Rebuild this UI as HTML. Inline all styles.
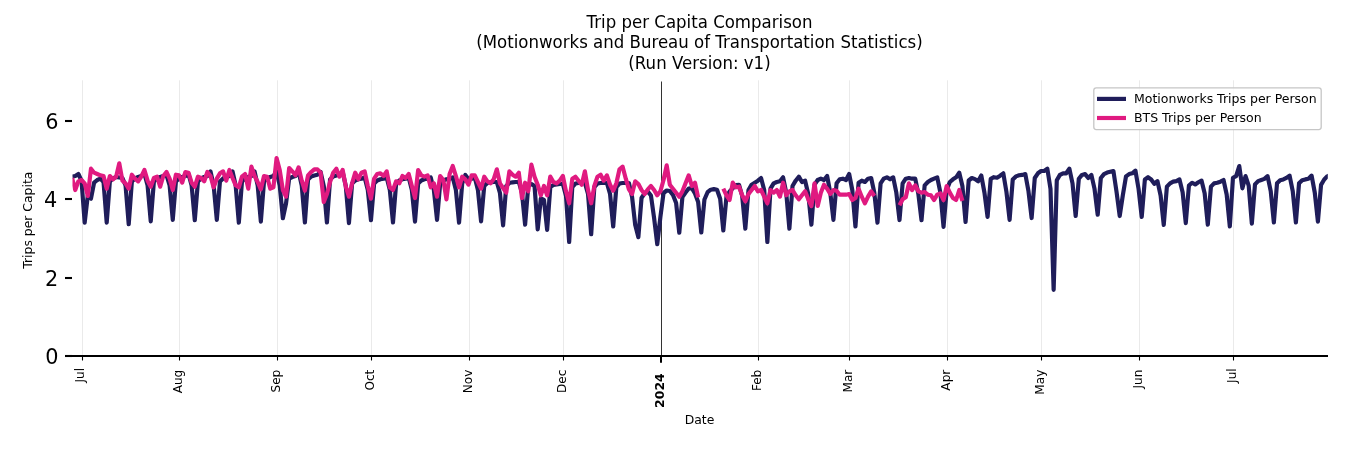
<!DOCTYPE html>
<html><head><meta charset="utf-8"><title>Trip per Capita Comparison</title>
<style>
html,body{margin:0;padding:0;background:#fff;}
body{width:1350px;height:450px;overflow:hidden;font-family:"DejaVu Sans","Liberation Sans",sans-serif;}
svg{display:block}
text{font-family:"DejaVu Sans","Liberation Sans",sans-serif;fill:#000}
.t{font-size:16.6px;text-anchor:middle}
.yl{font-size:20.83px;text-anchor:end}
.xl{font-size:12.1px;text-anchor:end}
.lg{font-size:12.5px}
.ax{font-size:12.4px;text-anchor:middle}
</style></head><body>
<svg width="1350" height="450" viewBox="0 0 1350 450">
<rect width="1350" height="450" fill="#fff"/>
<!-- title -->
<text class="t" transform="translate(699.5,27.8) scale(1,1.08)">Trip per Capita Comparison</text>
<text class="t" transform="translate(699.5,47.9) scale(1,1.08)">(Motionworks and Bureau of Transportation Statistics)</text>
<text class="t" transform="translate(699.5,69.2) scale(1,1.08)">(Run Version: v1)</text>
<!-- grid -->
<g stroke="#e4e4e4" stroke-width="0.8" fill="none">
<line x1="82.50" y1="80.3" x2="82.50" y2="356"/>
<line x1="179.50" y1="80.3" x2="179.50" y2="356"/>
<line x1="277.50" y1="80.3" x2="277.50" y2="356"/>
<line x1="371.50" y1="80.3" x2="371.50" y2="356"/>
<line x1="469.50" y1="80.3" x2="469.50" y2="356"/>
<line x1="563.50" y1="80.3" x2="563.50" y2="356"/>
<line x1="758.50" y1="80.3" x2="758.50" y2="356"/>
<line x1="849.50" y1="80.3" x2="849.50" y2="356"/>
<line x1="947.50" y1="80.3" x2="947.50" y2="356"/>
<line x1="1041.50" y1="80.3" x2="1041.50" y2="356"/>
<line x1="1139.50" y1="80.3" x2="1139.50" y2="356"/>
<line x1="1233.50" y1="80.3" x2="1233.50" y2="356"/>
</g>
<line x1="661.5" y1="81.5" x2="661.5" y2="356" stroke="#333" stroke-width="1"/>
<!-- series -->
<defs><clipPath id="axclip"><rect x="72.5" y="81.5" width="1255.3" height="274.5"/></clipPath></defs>
<g clip-path="url(#axclip)" fill="none" stroke="#1f1d5a" stroke-width="4.17" stroke-linejoin="round" stroke-linecap="butt">
<path d="M72.09 176.67 L75.24 176.00 L78.38 174.00 L81.53 180.67 L84.67 222.70 L87.82 195.33 L90.97 198.67 L94.11 182.67 L97.26 180.00 L100.40 178.67 L103.55 182.00 L106.70 222.70 L109.84 181.50 L112.99 178.50 L116.13 177.00 L119.28 177.50 L122.43 178.00 L125.57 185.50 L128.72 224.26 L131.86 181.50 L135.01 178.50 L138.16 177.00 L141.30 176.00 L144.45 173.80 L147.59 185.50 L150.74 221.37 L153.89 181.50 L157.03 178.50 L160.18 177.00 L163.32 176.00 L166.47 174.80 L169.62 185.50 L172.76 219.81 L175.91 181.50 L179.05 178.50 L182.20 177.00 L185.35 176.00 L188.49 174.00 L191.64 185.50 L194.78 220.26 L197.93 181.50 L201.08 178.50 L204.22 177.00 L207.37 176.00 L210.51 171.50 L213.66 185.50 L216.81 219.81 L219.95 181.50 L223.10 178.50 L226.24 177.00 L229.39 176.00 L232.54 171.50 L235.68 185.50 L238.83 222.70 L241.97 181.50 L245.12 178.50 L248.27 177.00 L251.41 176.00 L254.56 171.50 L257.70 185.50 L260.85 221.59 L264.00 181.50 L267.14 178.50 L270.29 177.00 L273.43 176.00 L276.58 171.50 L279.73 185.50 L282.87 218.26 L286.02 203.50 L289.16 178.50 L292.31 177.00 L295.46 176.00 L298.60 171.50 L301.75 185.50 L304.89 222.48 L308.04 179.50 L311.19 176.50 L314.33 175.50 L317.48 174.80 L320.62 172.00 L323.77 186.00 L326.92 222.48 L330.06 179.50 L333.21 176.50 L336.35 175.50 L339.50 174.80 L342.65 172.00 L345.79 186.00 L348.94 223.14 L352.08 183.50 L355.23 180.50 L358.38 179.30 L361.52 178.80 L364.67 177.50 L367.81 190.00 L370.96 220.26 L374.11 183.50 L377.25 180.50 L380.40 179.30 L383.54 178.80 L386.69 177.50 L389.84 190.00 L392.98 222.48 L396.13 183.50 L399.27 180.50 L402.42 179.30 L405.57 178.80 L408.71 177.50 L411.86 190.00 L415.00 221.59 L418.15 183.50 L421.30 180.50 L424.44 179.30 L427.59 178.80 L430.73 177.50 L433.88 190.00 L437.03 219.81 L440.17 183.50 L443.32 180.50 L446.46 179.30 L449.61 178.80 L452.76 177.50 L455.90 190.00 L459.05 222.70 L462.19 183.50 L465.34 175.00 L468.49 179.30 L471.63 178.80 L474.78 177.50 L477.92 190.00 L481.07 221.37 L484.22 186.00 L487.36 183.00 L490.51 182.30 L493.65 182.00 L496.80 182.00 L499.95 193.00 L503.09 225.37 L506.24 186.00 L509.38 183.00 L512.53 182.30 L515.68 182.00 L518.82 182.00 L521.97 193.00 L525.11 224.70 L528.26 186.00 L531.41 184.00 L534.55 186.00 L537.70 229.30 L540.84 198.50 L543.99 200.00 L547.14 229.81 L550.28 187.00 L553.43 185.00 L556.57 184.50 L559.72 184.00 L562.87 184.00 L566.01 196.00 L569.16 242.03 L572.30 187.00 L575.45 183.50 L578.60 183.00 L581.74 183.00 L584.89 183.00 L588.03 194.00 L591.18 234.26 L594.33 187.00 L597.47 183.50 L600.62 183.00 L603.76 183.00 L606.91 183.00 L610.06 194.00 L613.20 226.48 L616.35 187.00 L619.49 183.50 L622.64 183.00 L625.79 183.00 L628.93 183.00 L632.08 197.00 L635.22 225.00 L638.37 237.20 L641.52 198.00 L644.66 193.20 L647.81 191.50 L650.95 195.50 L654.10 218.00 L657.25 244.26 L660.39 217.00 L663.54 193.00 L666.68 190.50 L669.83 191.00 L672.98 195.00 L676.12 203.00 L679.27 232.70 L682.41 197.00 L685.56 192.50 L688.71 188.50 L691.85 188.20 L695.00 193.50 L698.14 202.00 L701.29 232.48 L704.44 199.50 L707.58 192.20 L710.73 189.70 L713.87 189.10 L717.02 189.70 L720.17 198.80 L723.31 230.48 L726.46 196.80 L729.60 191.50 L732.75 188.30 L735.90 185.00 L739.04 184.80 L742.19 196.00 L745.33 228.70 L748.48 190.00 L751.63 184.67 L754.77 182.67 L757.92 180.67 L761.06 178.00 L764.21 190.00 L767.36 242.03 L770.50 188.67 L773.65 183.33 L776.79 182.00 L779.94 181.33 L783.09 177.33 L786.23 192.67 L789.38 228.70 L792.52 186.00 L795.67 180.67 L798.82 176.67 L801.96 182.00 L805.11 180.67 L808.25 194.00 L811.40 224.70 L814.55 184.67 L817.69 180.00 L820.84 178.67 L823.98 180.00 L827.13 176.00 L830.28 192.67 L833.42 219.81 L836.57 183.33 L839.71 179.33 L842.86 178.67 L846.01 180.00 L849.15 174.00 L852.30 190.00 L855.44 226.48 L858.59 182.67 L861.74 180.67 L864.88 182.00 L868.03 178.67 L871.17 178.00 L874.32 192.67 L877.47 222.70 L880.61 183.33 L883.76 178.67 L886.90 177.33 L890.05 179.33 L893.20 177.33 L896.34 192.67 L899.49 220.03 L902.63 183.33 L905.78 178.67 L908.93 178.00 L912.07 178.67 L915.22 178.67 L918.36 194.00 L921.51 220.26 L924.66 185.33 L927.80 182.00 L930.95 180.00 L934.09 178.67 L937.24 177.33 L940.39 192.67 L943.53 226.92 L946.68 190.00 L949.82 182.00 L952.97 179.33 L956.12 177.33 L959.26 172.67 L962.41 186.00 L965.55 222.03 L968.70 180.50 L971.85 178.00 L974.99 179.10 L978.14 181.30 L981.28 175.50 L984.43 192.50 L987.58 216.92 L990.72 178.80 L993.87 177.20 L997.01 177.70 L1000.16 175.70 L1003.31 173.30 L1006.45 192.00 L1009.60 219.81 L1012.74 179.50 L1015.89 176.40 L1019.04 175.30 L1022.18 174.90 L1025.33 174.10 L1028.47 191.20 L1031.62 218.03 L1034.77 178.00 L1037.91 173.30 L1041.06 171.00 L1044.20 171.00 L1047.35 168.70 L1050.50 188.90 L1053.64 289.81 L1056.79 180.30 L1059.93 174.90 L1063.08 173.30 L1066.23 173.30 L1069.37 168.70 L1072.52 183.40 L1075.66 216.03 L1078.81 178.80 L1081.96 174.90 L1085.10 174.10 L1088.25 178.00 L1091.39 174.90 L1094.54 188.90 L1097.69 214.70 L1100.83 178.00 L1103.98 174.10 L1107.12 172.60 L1110.27 171.80 L1113.42 171.00 L1116.56 192.00 L1119.71 216.03 L1122.85 195.10 L1126.00 176.40 L1129.15 174.10 L1132.29 173.30 L1135.44 170.60 L1138.58 189.00 L1141.73 216.92 L1144.88 179.44 L1148.02 177.22 L1151.17 179.44 L1154.31 183.89 L1157.46 181.11 L1160.61 195.56 L1163.75 224.92 L1166.90 186.67 L1170.04 183.33 L1173.19 181.67 L1176.34 181.11 L1179.48 179.44 L1182.63 192.22 L1185.77 223.14 L1188.92 185.56 L1192.07 182.78 L1195.21 184.44 L1198.36 182.22 L1201.50 180.56 L1204.65 193.33 L1207.80 224.70 L1210.94 186.67 L1214.09 183.33 L1217.23 182.78 L1220.38 181.67 L1223.53 180.00 L1226.67 194.44 L1229.82 226.48 L1232.96 177.78 L1236.11 176.11 L1239.26 166.11 L1242.40 188.33 L1245.55 176.11 L1248.69 185.56 L1251.84 223.59 L1254.99 184.44 L1258.13 181.11 L1261.28 180.00 L1264.42 178.89 L1267.57 176.11 L1270.72 191.11 L1273.86 222.48 L1277.01 183.30 L1280.15 180.20 L1283.30 179.40 L1286.45 177.90 L1289.59 175.60 L1292.74 191.10 L1295.88 222.48 L1299.03 183.30 L1302.18 180.20 L1305.32 179.40 L1308.47 178.70 L1311.61 175.60 L1314.76 192.50 L1317.91 221.59 L1321.05 184.90 L1324.20 179.50 L1327.34 176.30 L1330.49 174.80"/>
</g>
<g clip-path="url(#axclip)" fill="none" stroke="#e01a80" stroke-width="4.17" stroke-linejoin="round" stroke-linecap="butt">
<path d="M72.09 178.00 L75.24 190.00 L78.38 181.33 L81.53 180.00 L84.67 183.33 L87.82 196.00 L90.97 168.67 L94.11 172.67 L97.26 174.00 L100.40 175.33 L103.55 176.00 L106.70 188.67 L109.84 176.00 L112.99 179.33 L116.13 176.67 L119.28 163.33 L122.43 180.67 L125.57 183.33 L128.72 188.67 L131.86 174.67 L135.01 178.67 L138.16 181.33 L141.30 176.67 L144.45 170.00 L147.59 180.67 L150.74 186.67 L153.89 178.00 L157.03 176.67 L160.18 186.67 L163.32 176.00 L166.47 172.00 L169.62 178.67 L172.76 190.00 L175.91 174.67 L179.05 175.33 L182.20 182.67 L185.35 172.00 L188.49 172.67 L191.64 182.67 L194.78 186.67 L197.93 176.67 L201.08 178.00 L204.22 181.33 L207.37 172.00 L210.51 176.00 L213.66 187.33 L216.81 178.67 L219.95 173.33 L223.10 171.33 L226.24 180.67 L229.39 170.00 L232.54 178.00 L235.68 185.33 L238.83 187.33 L241.97 176.67 L245.12 174.00 L248.27 188.67 L251.41 166.67 L254.56 176.00 L257.70 182.00 L260.85 189.33 L264.00 176.00 L267.14 176.67 L270.29 188.67 L273.43 187.33 L276.58 158.00 L279.73 170.00 L282.87 190.00 L286.02 196.67 L289.16 168.00 L292.31 171.33 L295.46 175.33 L298.60 167.33 L301.75 180.67 L304.89 190.70 L308.04 175.33 L311.19 172.00 L314.33 169.33 L317.48 169.33 L320.62 172.67 L323.77 202.00 L326.92 194.00 L330.06 182.00 L333.21 172.67 L336.35 168.67 L339.50 176.67 L342.65 170.00 L345.79 186.67 L348.94 196.67 L352.08 183.33 L355.23 172.67 L358.38 179.33 L361.52 172.67 L364.67 171.33 L367.81 186.00 L370.96 198.67 L374.11 178.67 L377.25 174.00 L380.40 173.33 L383.54 176.00 L386.69 171.33 L389.84 187.33 L392.98 190.00 L396.13 181.33 L399.27 183.33 L402.42 176.00 L405.57 178.00 L408.71 174.00 L411.86 186.00 L415.00 198.00 L418.15 170.00 L421.30 175.33 L424.44 176.67 L427.59 175.33 L430.73 187.33 L433.88 183.33 L437.03 196.67 L440.17 176.00 L443.32 180.00 L446.46 199.33 L449.61 174.00 L452.76 166.00 L455.90 176.00 L459.05 187.33 L462.19 176.67 L465.34 179.33 L468.49 184.67 L471.63 175.33 L474.78 175.33 L477.92 182.00 L481.07 188.67 L484.22 176.67 L487.36 181.33 L490.51 183.33 L493.65 179.33 L496.80 169.33 L499.95 183.33 L503.09 188.00 L506.24 192.67 L509.38 171.33 L512.53 174.67 L515.68 176.67 L518.82 172.67 L521.97 198.00 L525.11 182.67 L528.26 191.33 L531.41 164.67 L534.55 176.67 L537.70 184.67 L540.84 195.33 L543.99 186.00 L547.14 195.33 L550.28 176.67 L553.43 182.00 L556.57 183.33 L559.72 180.67 L562.87 176.00 L566.01 191.33 L569.16 203.33 L572.30 178.67 L575.45 176.67 L578.60 180.67 L581.74 184.67 L584.89 171.33 L588.03 190.00 L591.18 203.33 L594.33 186.00 L597.47 176.67 L600.62 174.67 L603.76 180.67 L606.91 175.33 L610.06 184.67 L613.20 190.67 L616.35 183.33 L619.49 169.33 L622.64 166.67 L625.79 178.67 L628.93 189.33 L632.08 194.00 L635.22 181.33 L638.37 184.00 L641.52 190.00 L644.66 194.00 L647.81 189.33 L650.95 186.00 L654.10 190.00 L657.25 195.33 L660.39 191.33 L663.54 180.00 L666.68 165.33 L669.83 184.67 L672.98 188.67 L676.12 192.67 L679.27 196.67 L682.41 191.33 L685.56 183.33 L688.71 175.33 L691.85 186.00 L695.00 182.67 L698.14 197.33"/>
<path d="M723.31 188.67 L726.46 195.33 L729.60 200.00 L732.75 182.67 L735.90 187.33 L739.04 186.67 L742.19 195.33 L745.33 201.33 L748.48 194.00 L751.63 190.00 L754.77 186.00 L757.92 191.33 L761.06 190.00 L764.21 196.67 L767.36 203.33 L770.50 190.00 L773.65 192.67 L776.79 190.00 L779.94 196.67 L783.09 182.67 L786.23 195.33 L789.38 191.33 L792.52 190.00 L795.67 195.33 L798.82 199.33 L801.96 195.33 L805.11 191.33 L808.25 199.33 L811.40 206.00 L814.55 183.33 L817.69 206.00 L820.84 192.67 L823.98 184.67 L827.13 188.67 L830.28 194.00 L833.42 190.00 L836.57 190.67 L839.71 194.67 L842.86 194.67 L846.01 194.67 L849.15 194.00 L852.30 200.00 L855.44 198.00 L858.59 188.67 L861.74 196.67 L864.88 203.33 L868.03 196.67 L871.17 191.33 L874.32 196.00"/>
<path d="M899.49 205.30 L902.63 199.33 L905.78 197.33 L908.93 183.33 L912.07 190.00 L915.22 185.33 L918.36 191.33 L921.51 192.67 L924.66 192.00 L927.80 194.67 L930.95 195.33 L934.09 200.00 L937.24 194.67 L940.39 193.33 L943.53 200.00 L946.68 186.00 L949.82 192.67 L952.97 198.00 L956.12 200.00 L959.26 190.00 L962.41 200.80"/>
</g>
<!-- spine and ticks -->
<line x1="72" y1="356" x2="1328" y2="356" stroke="#000" stroke-width="2.08"/>
<g stroke="#000" stroke-width="2.08">
<line x1="65" y1="356" x2="72.5" y2="356"/>
<line x1="65" y1="278" x2="72" y2="278"/>
<line x1="65" y1="199" x2="72" y2="199"/>
<line x1="65" y1="121" x2="72" y2="121"/>
</g>
<g stroke="#000" stroke-width="1.1">
<line x1="82.50" y1="356" x2="82.50" y2="360.5"/>
<line x1="179.50" y1="356" x2="179.50" y2="360.5"/>
<line x1="277.50" y1="356" x2="277.50" y2="360.5"/>
<line x1="371.50" y1="356" x2="371.50" y2="360.5"/>
<line x1="469.50" y1="356" x2="469.50" y2="360.5"/>
<line x1="563.50" y1="356" x2="563.50" y2="360.5"/>
<line x1="758.50" y1="356" x2="758.50" y2="360.5"/>
<line x1="849.50" y1="356" x2="849.50" y2="360.5"/>
<line x1="947.50" y1="356" x2="947.50" y2="360.5"/>
<line x1="1041.50" y1="356" x2="1041.50" y2="360.5"/>
<line x1="1139.50" y1="356" x2="1139.50" y2="360.5"/>
<line x1="1233.50" y1="356" x2="1233.50" y2="360.5"/>
</g>
<line x1="661" y1="356" x2="661" y2="362.7" stroke="#000" stroke-width="2"/>
<!-- y labels -->
<text class="yl" x="58.4" y="363.9">0</text>
<text class="yl" x="58.3" y="286.2">2</text>
<text class="yl" x="57.3" y="206.9">4</text>
<text class="yl" x="58.6" y="128.7">6</text>
<!-- x labels -->
<text class="xl" transform="translate(83.8,368.0) rotate(-90)">Jul</text>
<text class="xl" transform="translate(182.4,369.7) rotate(-90)">Aug</text>
<text class="xl" transform="translate(280.4,369.7) rotate(-90)">Sep</text>
<text class="xl" transform="translate(374.4,369.7) rotate(-90)">Oct</text>
<text class="xl" transform="translate(472.4,369.7) rotate(-90)">Nov</text>
<text class="xl" transform="translate(566.4,369.7) rotate(-90)">Dec</text>
<text class="xl" style="font-weight:bold;font-size:12.5px" transform="translate(664.0,373.2) rotate(-90)">2024</text>
<text class="xl" transform="translate(761.4,369.7) rotate(-90)">Feb</text>
<text class="xl" transform="translate(852.4,369.7) rotate(-90)">Mar</text>
<text class="xl" transform="translate(950.4,369.7) rotate(-90)">Apr</text>
<text class="xl" transform="translate(1044.4,369.7) rotate(-90)">May</text>
<text class="xl" transform="translate(1142.4,369.7) rotate(-90)">Jun</text>
<text class="xl" transform="translate(1236.4,368.3) rotate(-90)">Jul</text>
<text class="ax" x="699.5" y="424">Date</text>
<text class="ax" transform="translate(31.7,220.2) rotate(-90)">Trips per Capita</text>
<!-- legend -->
<rect x="1093.8" y="87.8" width="227.4" height="41.8" rx="2.5" ry="2.5" fill="#fff" fill-opacity="0.8" stroke="#c6c6c6" stroke-width="1.3"/>
<line x1="1097" y1="98.9" x2="1126" y2="98.9" stroke="#1f1d5a" stroke-width="4.17"/>
<line x1="1097" y1="118" x2="1126" y2="118" stroke="#e01a80" stroke-width="4.17"/>
<text class="lg" x="1134" y="103.3">Motionworks Trips per Person</text>
<text class="lg" x="1134" y="122.4">BTS Trips per Person</text>
</svg>
</body></html>
